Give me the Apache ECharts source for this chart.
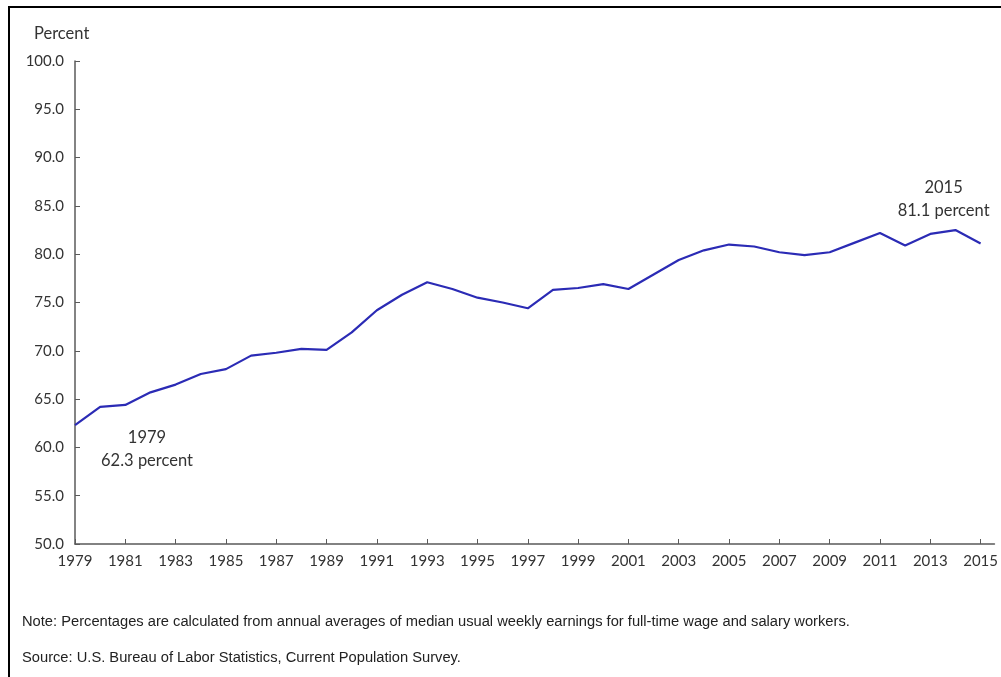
<!DOCTYPE html>
<html>
<head>
<meta charset="utf-8">
<script src="https://cdn.jsdelivr.net/npm/echarts@6/dist/echarts.min.js"></script>
<style>
  html, body { margin: 0; padding: 0; background: #fff; }
  #wrap { position: relative; width: 1001px; height: 677px; overflow: hidden; }
  #chart { position: absolute; left: 0; top: 0; width: 1001px; height: 677px; }
  #frame { position: absolute; left: 8px; top: 6px; right: -10px; bottom: -10px;
           border-top: 2px solid #000; border-left: 2px solid #000; pointer-events: none; }
</style>
</head>
<body>
<div id="wrap"><div id="chart"></div><div id="frame"></div></div>
<script>
const years = [1979,1980,1981,1982,1983,1984,1985,1986,1987,1988,1989,1990,1991,1992,1993,1994,1995,1996,1997,1998,1999,2000,2001,2002,2003,2004,2005,2006,2007,2008,2009,2010,2011,2012,2013,2014,2015];
const ratio = [62.3,64.2,64.4,65.7,66.5,67.6,68.1,69.5,69.8,70.2,70.1,71.9,74.2,75.8,77.1,76.4,75.5,75.0,74.4,76.3,76.5,76.9,76.4,77.9,79.4,80.4,81.0,80.8,80.2,79.9,80.2,81.2,82.2,80.9,82.1,82.5,81.1];
const xTickLabels = [1979,1981,1983,1985,1987,1989,1991,1993,1995,1997,1999,2001,2003,2005,2007,2009,2011,2013,2015];
const yTicks = [50,55,60,65,70,75,80,85,90,95,100];
const yAxisTitle = 'Percent';
const noteText = 'Note: Percentages are calculated from annual averages of median usual weekly earnings for full-time wage and salary workers.';
const sourceText = 'Source: U.S. Bureau of Labor Statistics, Current Population Survey.';

const axisColor = '#5a5a5a';
const textColor = '#333333';
const fontMain = 'Lato, "Open Sans", sans-serif';
const fontNote = '"Liberation Sans Narrow", "Arial Narrow", "Liberation Sans", Arial, sans-serif';

const first = 0, last = years.length - 1;
const chart = echarts.init(document.getElementById('chart'), null, { renderer: 'canvas' });
chart.setOption({
  animation: false,
  backgroundColor: '#fff',
  title: {
    text: yAxisTitle, left: 29, top: 20,
    textStyle: { fontFamily: fontMain, fontSize: 16.5, fontWeight: 'normal', color: textColor }
  },
  grid: { left: 75, right: 3, top: 61, bottom: 133, containLabel: false },
  xAxis: {
    type: 'value', min: years[0], max: years[last] + 0.55,
    axisLine: { show: true, lineStyle: { color: axisColor, width: 1.5 } },
    axisTick: { show: true, inside: true, length: 5, customValues: xTickLabels, lineStyle: { color: axisColor, width: 1 } },
    axisLabel: { customValues: xTickLabels, formatter: v => String(v), margin: 10,
      fontFamily: fontMain, fontSize: 15, color: textColor },
    splitLine: { show: false }
  },
  yAxis: {
    type: 'value', min: yTicks[0], max: yTicks[yTicks.length - 1], interval: 5,
    axisLine: { show: true, lineStyle: { color: axisColor, width: 1.5 } },
    axisTick: { show: true, inside: true, length: 5, lineStyle: { color: axisColor, width: 1 } },
    axisLabel: { formatter: v => v.toFixed(1), margin: 11, fontFamily: fontMain, fontSize: 15, color: textColor },
    splitLine: { show: false }
  },
  series: [{
    type: 'line',
    data: years.map((y, i) => [y, ratio[i]]),
    showSymbol: false,
    lineStyle: { color: '#2b2bb5', width: 2.2 },
    markPoint: {
      symbol: 'circle', symbolSize: 0,
      label: { show: true, fontFamily: fontMain, fontSize: 16.5, color: textColor, lineHeight: 23, align: 'center' },
      data: [
        { coord: [years[first], ratio[first]], label: { formatter: years[first] + '\n' + ratio[first].toFixed(1) + ' percent', offset: [72, 24] } },
        { coord: [years[last], ratio[last]], label: { formatter: years[last] + '\n' + ratio[last].toFixed(1) + ' percent', offset: [-37, -44] } }
      ]
    }
  }],
  graphic: [
    { type: 'text', left: 22, top: 614, style: { text: noteText, font: '14.7px ' + fontNote, fill: '#222' } },
    { type: 'text', left: 22, top: 650, style: { text: sourceText, font: '14.7px ' + fontNote, fill: '#222' } }
  ]
});
</script>
</body>
</html>
